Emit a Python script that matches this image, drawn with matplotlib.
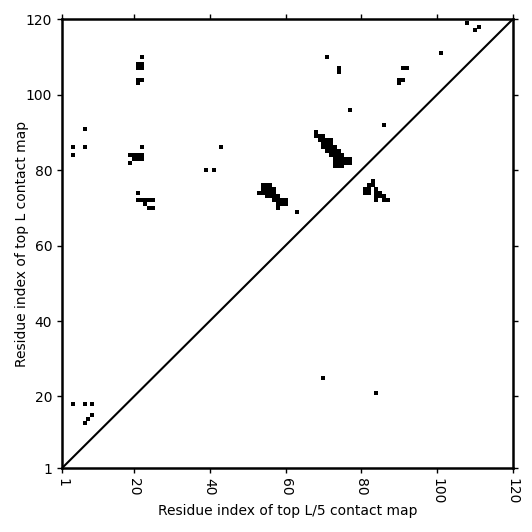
import numpy as np
import matplotlib
matplotlib.use('Agg')
import matplotlib.pyplot as plt

# kontakty z mapy top L (gorny trojkat): x = i, y = j
top_L_i = [22, 21, 22, 21, 22, 21, 22, 21,
           4, 4, 7, 7, 22, 43, 39, 41,
           19, 20, 21, 22, 20, 21, 22, 19,
           21, 21, 22, 23, 24, 25, 23, 24, 25,
           54, 55, 56, 54, 55, 56, 57, 53, 54, 55, 56, 57,
           55, 56, 57, 58, 57, 58, 59, 60, 58, 59, 60, 58, 63,
           68, 68, 69, 70, 69, 70, 71, 72, 70, 71, 72,
           70, 71, 72, 73, 71, 72, 73, 74, 72, 73, 74, 75,
           73, 74, 75, 76, 73, 74, 75, 76, 73, 74, 75, 77, 77,
           71, 74, 74, 77, 86, 101, 108, 111, 110,
           91, 92, 90, 91, 90,
           83, 82, 83, 81, 82, 81, 82, 84, 84, 84, 84, 85, 85, 86, 86, 87,
           4, 7, 9, 9, 8, 7]
top_L_j = [110, 108, 108, 107, 107, 104, 104, 103,
           86, 84, 91, 86, 86, 86, 80, 80,
           84, 84, 84, 84, 83, 83, 83, 82,
           74, 72, 72, 72, 72, 72, 71, 70, 70,
           76, 76, 76, 75, 75, 75, 75, 74, 74, 74, 74, 74,
           73, 73, 73, 73, 72, 72, 72, 72, 71, 71, 71, 70, 69,
           90, 89, 89, 89, 88, 88, 88, 88, 87, 87, 87,
           86, 86, 86, 86, 85, 85, 85, 85, 84, 84, 84, 84,
           83, 83, 83, 83, 82, 82, 82, 82, 81, 81, 81, 83, 82,
           110, 107, 106, 96, 92, 111, 119, 118, 117,
           107, 107, 104, 104, 103,
           77, 76, 76, 75, 75, 74, 74, 75, 74, 73, 72, 74, 73, 73, 72, 72,
           18, 18, 18, 15, 14, 13]

# kontakty z mapy top L/5 (dolny trojkat): x = j, y = i
top_L5_j = [70, 84]
top_L5_i = [25, 21]

L = 120
ticks = [1, 20, 40, 60, 80, 100, 120]

fig = plt.figure(figsize=(5.32, 5.32), dpi=100)
ax = fig.add_axes([0.1165, 0.12, 0.8475, 0.844])

ax.scatter(top_L_i, top_L_j, s=6.5, marker='s', color='black', linewidths=0)
ax.scatter(top_L5_j, top_L5_i, s=6.5, marker='s', color='black', linewidths=0)
ax.plot([1, L], [1, L], 'k-', linewidth=1.5)

ax.set_xlim(1, L)
ax.set_ylim(1, L)
ax.set_xticks(ticks)
ax.set_yticks(ticks)
ax.set_xticklabels([str(t) for t in ticks], rotation=270)
ax.tick_params(top=True, right=True, width=1)
for s in ax.spines.values():
    s.set_linewidth(1.8)

ax.set_xlabel('Residue index of top L/5 contact map', labelpad=0)
ax.set_ylabel('Residue index of top L contact map', labelpad=-2)

plt.savefig('out.png', dpi=100)
